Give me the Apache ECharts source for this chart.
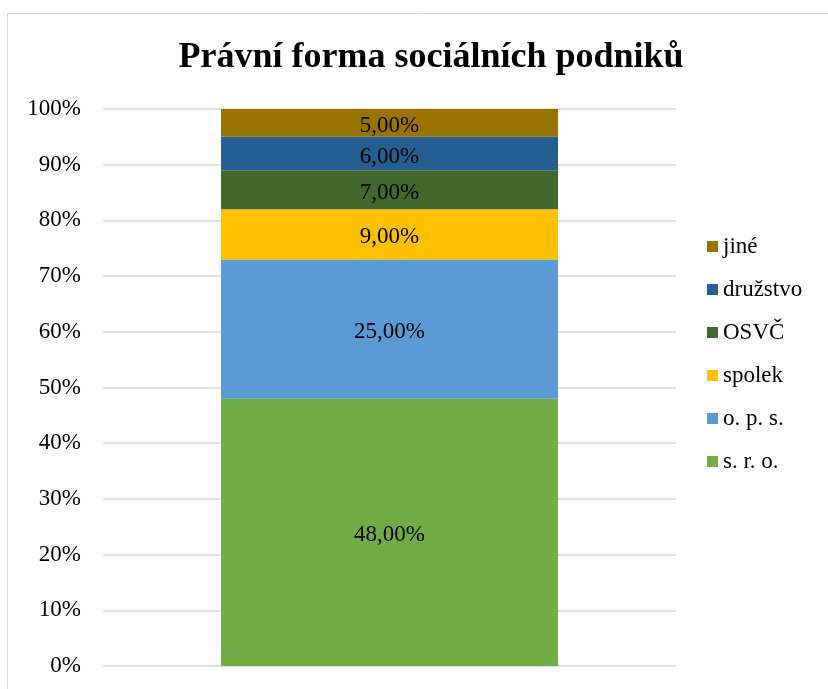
<!DOCTYPE html>
<html><head><meta charset="utf-8">
<script src="https://cdn.jsdelivr.net/npm/echarts@6/dist/echarts.min.js"></script>
<style>html,body{margin:0;padding:0;background:#fff}#c{width:828px;height:689px}</style>
</head><body><div id="c"></div>
<script>
const title = 'Právní forma sociálních podniků';
const categories = [''];
const seriesNames = ['s. r. o.', 'o. p. s.', 'spolek', 'OSVČ', 'družstvo', 'jiné'];
const seriesValues = [[48], [25], [9], [7], [6], [5]];
const seriesColors = ['#70AD47', '#5B9BD5', '#FFC000', '#43682B', '#255E91', '#997300'];
const legendOrder = ['jiné', 'družstvo', 'OSVČ', 'spolek', 'o. p. s.', 's. r. o.'];
const font = '"Liberation Serif", "Times New Roman", serif';

const chart = echarts.init(document.getElementById('c'));
chart.setOption({
  animation: false,
  textStyle: {fontFamily: font},
  graphic: [{type: 'rect', shape: {x: 7.5, y: 13.5, width: 840, height: 700}, style: {fill: 'none', stroke: '#d9d9d9', lineWidth: 1}, silent: true}],
  title: {text: title, left: 426, textAlign: 'center', top: 35,
    textStyle: {fontFamily: font, fontSize: 36, fontWeight: 'bold', color: '#000'}},
  legend: {
    data: legendOrder, orient: 'vertical', left: 702, top: 230, itemGap: 20,
    itemWidth: 11, itemHeight: 11, icon: 'rect',
    textStyle: {fontFamily: font, fontSize: 23, color: '#000', padding: [3, 0, 0, 0]}
  },
  grid: {left: 103, right: 152, top: 109, bottom: 23, containLabel: false},
  xAxis: {type: 'category', data: categories, axisLine: {show: false}, axisTick: {show: false}, axisLabel: {show: false}},
  yAxis: {type: 'value', min: 0, max: 100, interval: 10,
    axisLabel: {formatter: '{value}%', fontFamily: font, fontSize: 23, color: '#000', margin: 22, padding: [3, 0, 0, 0]},
    axisLine: {show: false}, axisTick: {show: false},
    splitLine: {lineStyle: {color: '#d9d9d9', width: 1.5}}},
  series: seriesNames.map((n, i) => ({
    name: n, type: 'bar', stack: 'total', barWidth: 337,
    data: seriesValues[i],
    itemStyle: {color: seriesColors[i]},
    label: {show: true, position: 'inside', offset: [0, 3], fontFamily: font, fontSize: 23, color: '#000',
      formatter: p => p.value.toFixed(2).replace('.', ',') + '%'}
  }))
});
</script></body></html>
